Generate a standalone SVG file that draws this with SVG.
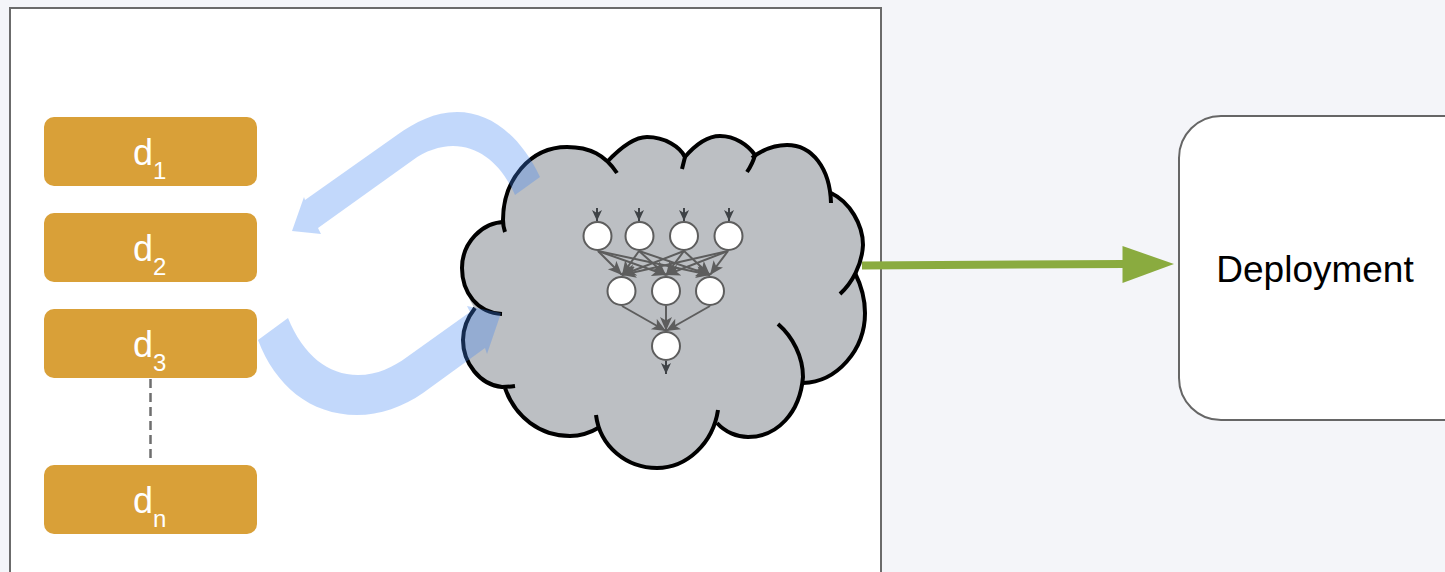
<svg xmlns="http://www.w3.org/2000/svg" width="1445" height="572" viewBox="0 0 1445 572">
<style>
.d{fill:#d9a038}
.dt{font-family:"Liberation Sans",Arial,sans-serif;font-size:36px;fill:#fff}
.sub{font-size:24px}
.n{fill:#fff;stroke:#5d5d5d;stroke-width:2}
.e{stroke:#5d5d5d;stroke-width:2;fill:none;marker-end:url(#a)}
.io{stroke:#3f4347;stroke-width:2;fill:none;marker-end:url(#b)}
.c{fill:none;stroke:#000;stroke-width:4}
</style>
<defs>
<marker id="a" markerUnits="userSpaceOnUse" markerWidth="16" markerHeight="14" refX="14" refY="6" orient="auto"><path d="M0,0 L14,6 L0,12 L3.500,6 Z" fill="#5d5d5d"/></marker>
<marker id="b" markerUnits="userSpaceOnUse" markerWidth="14" markerHeight="12" refX="11" refY="5" orient="auto"><path d="M0,0 L11,5 L0,10 L3,5 Z" fill="#3f4347"/></marker>
</defs>
<rect width="1445" height="572" fill="#f4f5f9"/>
<rect id="panel" x="10" y="8" width="871" height="580" fill="#fff" stroke="#6b6b6b" stroke-width="2"/>
<g id="d1"><rect class="d" x="44" y="117" width="213" height="69" rx="10"/><text class="dt" x="133" y="165">d<tspan class="sub" dy="14">1</tspan></text></g>
<g id="d2"><rect class="d" x="44" y="213" width="213" height="69" rx="10"/><text class="dt" x="133" y="261">d<tspan class="sub" dy="14">2</tspan></text></g>
<g id="d3"><rect class="d" x="44" y="309" width="213" height="69" rx="10"/><text class="dt" x="133" y="357">d<tspan class="sub" dy="14">3</tspan></text></g>
<g id="dn"><rect class="d" x="44" y="465" width="213" height="69" rx="10"/><text class="dt" x="133" y="513">d<tspan class="sub" dy="14">n</tspan></text></g>
<g id="cloud">
<path fill="#bcbfc3" d="M503,220 C503,180 530,147 567,147 C580,147 595,150 607,162 C622,146 635,137 647,137 C665,137 680,147 685,157 C695,145 708,136 720,136 C735,136 748,145 755,155 C762,150 775,145 787,145 C812,145 830,168 831,193 C850,202 863,225 863,245 C863,255 860,265 855,273 C862,287 865,300 865,313 C865,350 837,382 803,383 C800,413 777,437 748,437 C737,437 725,432 717,423 C708,450 687,468 657,468 C632,468 610,452 600,427 C590,433 580,436 570,436 C540,436 515,417 505,388 L502,387 C480,385 463,363 463,340 C463,328 468,317 475,308 C478,313 462,293 462,268 C462,243 482,222 503,220 Z"/>
<path class="c" d="M505,232 Q503,226 503,220 C503,180 530,147 567,147 C590,147 605,155 617,173"/>
<path class="c" d="M607,162 C622,146 635,137 647,137 C665,137 680,147 685,157 L682,169"/>
<path class="c" d="M684,158 C695,145 708,136 720,136 C735,136 748,145 755,155 Q753,163 747,172"/>
<path class="c" d="M752,158 C762,150 775,145 787,145 C812,145 830,168 831,203"/>
<path class="c" d="M831,193 C850,202 863,225 863,245 C862,265 852,283 840,294"/>
<path class="c" d="M855,273 C862,287 865,300 865,313 C865,350 837,382 803,383"/>
<path class="c" d="M778,324 C793,337 803,357 803,377 C800,413 777,437 748,437 C737,437 725,432 717,423"/>
<path class="c" d="M718,410 C713,443 687,468 657,468 C627,468 600,447 596,415"/>
<path class="c" d="M600,427 C590,433 580,436 570,436 C540,436 515,417 505,388"/>
<path class="c" d="M515,386 Q508,387 502,387 C480,385 463,363 463,340 C463,328 468,317 475,308"/>
<path class="c" d="M502,314 C478,313 462,293 462,268 C462,243 482,222 505,222"/>
</g>
<g id="connectors">
<path class="io" d="M597,208 L597,221"/><path class="io" d="M639,208 L639,221"/><path class="io" d="M684,208 L684,221"/><path class="io" d="M729,208 L729,221"/>
<path class="io" d="M666,361 L666,374"/>
<path class="e" d="M598,251 L622,275"/><path class="e" d="M598,251 L666,275"/><path class="e" d="M598,251 L710,275"/>
<path class="e" d="M639,251 L622,275"/><path class="e" d="M639,251 L666,275"/><path class="e" d="M639,251 L710,275"/>
<path class="e" d="M684,251 L622,275"/><path class="e" d="M684,251 L666,275"/><path class="e" d="M684,251 L710,275"/>
<path class="e" d="M728,251 L622,275"/><path class="e" d="M728,251 L666,275"/><path class="e" d="M728,251 L710,275"/>
<path class="e" d="M622,306 L666,331"/><path class="e" d="M666,306 L666,331"/><path class="e" d="M710,306 L666,331"/>
<path fill="#4285f4" fill-opacity=".32" d="M540,177 C520,135 490,112 457,112 C435,112 415,122 397,135 L305,200 L304,197 L292,231 L321,234 L318,228 L413,160 C425,151 440,146 453,146 C480,146 502,165 515,195 Z"/>
<path fill="#4285f4" fill-opacity=".32" d="M258,340 L288,318 C303,355 328,375 358,375 C378,375 393,367 407,357 L470,312 L467,306 L501,313 L487,354 L485,348 L423,393 C403,407 380,415 357,415 C310,415 275,385 258,340 Z"/>
<path d="M862,265.500 L1124,264" stroke="#8aab3f" stroke-width="8" fill="none"/>
<path d="M1122.500,246 L1174,264 L1122.500,283 Z" fill="#8aab3f"/>
<path d="M150.500,379 L150.500,462" stroke="#6e6e6e" stroke-width="2.500" stroke-dasharray="9,5" fill="none"/>
</g>
<g id="net">
<circle class="n" cx="597.500" cy="236" r="14"/><circle class="n" cx="639.500" cy="236" r="14"/><circle class="n" cx="684" cy="236" r="14"/><circle class="n" cx="728.500" cy="236" r="14"/>
<circle class="n" cx="621.500" cy="291" r="14"/><circle class="n" cx="666" cy="291" r="14"/><circle class="n" cx="710" cy="291" r="14"/>
<circle class="n" cx="666" cy="346" r="14"/>
</g>
<g id="deployment"><rect x="1179" y="116" width="320" height="304" rx="42" fill="#fff" stroke="#666" stroke-width="2"/><text x="1315" y="282" text-anchor="middle" font-family="'Liberation Sans',Arial,sans-serif" font-size="37" fill="#000">Deployment</text></g>
</svg>
